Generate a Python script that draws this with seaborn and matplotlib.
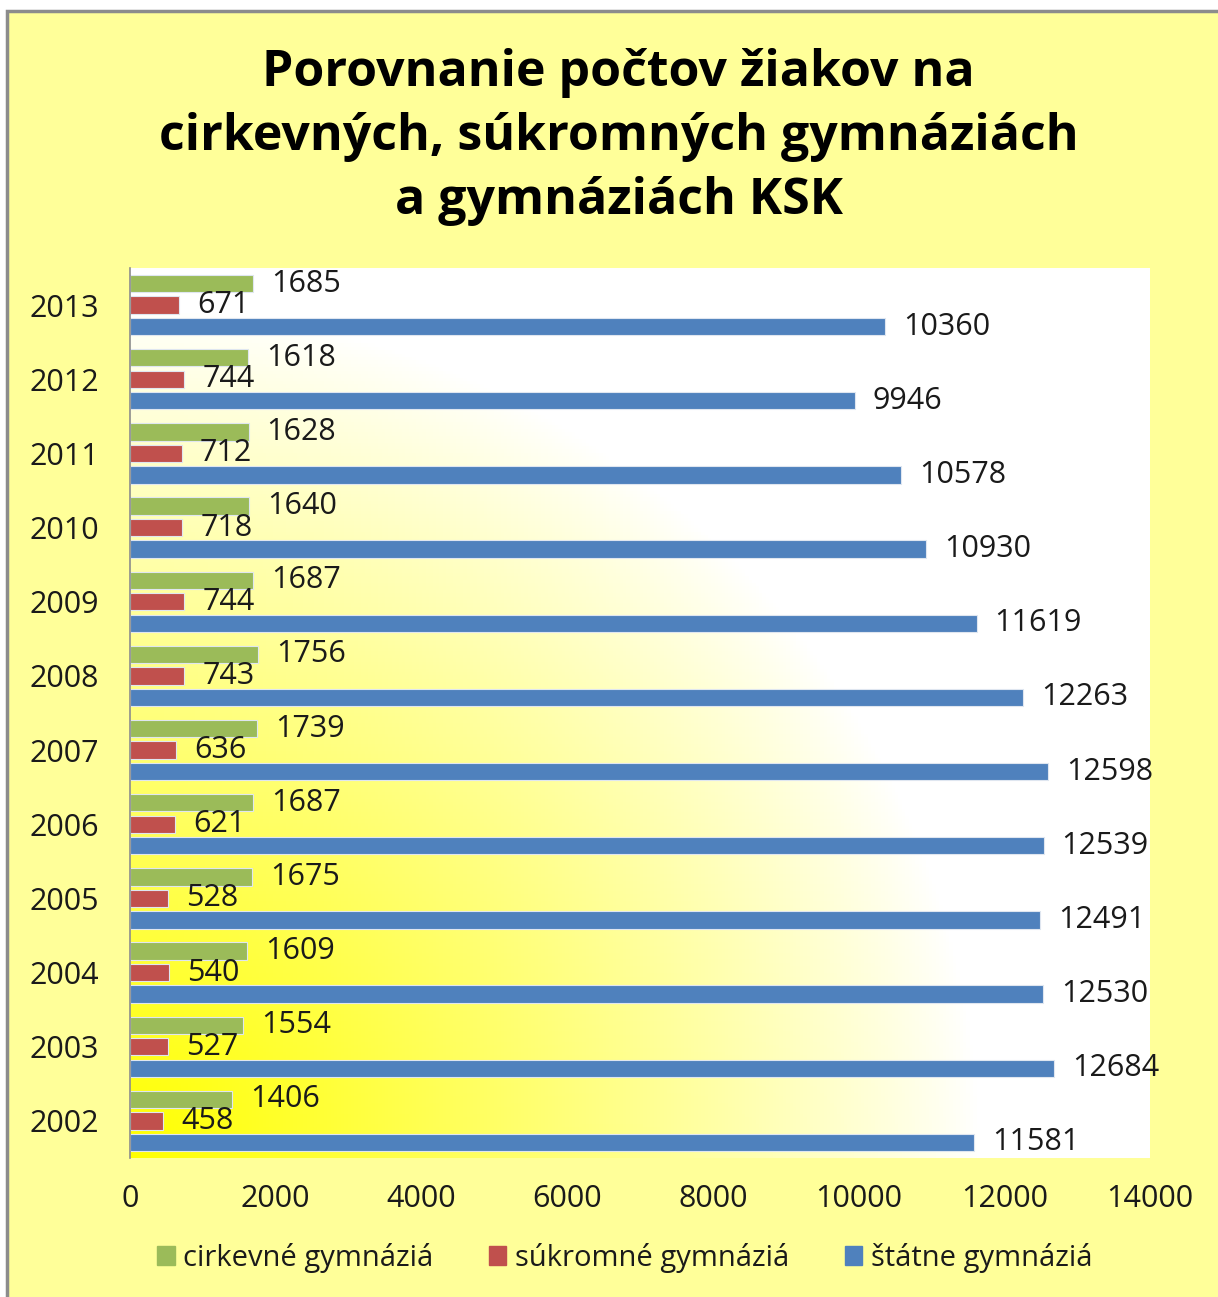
import numpy as np
import pandas as pd
import matplotlib
matplotlib.use("Agg")
import matplotlib.pyplot as plt
import seaborn as sns
from matplotlib.patches import Rectangle

#--------------------Data-----------------------
years = ["2013", "2012", "2011", "2010", "2009", "2008", "2007",
         "2006", "2005", "2004", "2003", "2002"]
cirkevne = [1685, 1618, 1628, 1640, 1687, 1756, 1739, 1687, 1675, 1609, 1554, 1406]
sukromne = [671, 744, 712, 718, 744, 743, 636, 621, 528, 540, 527, 458]
statne = [10360, 9946, 10578, 10930, 11619, 12263, 12598, 12539, 12491, 12530, 12684, 11581]
series_names = ["cirkevné gymnáziá", "súkromné gymnáziá", "štátne gymnáziá"]
series_colors = ["#9BBB59", "#C0504D", "#4F81BD"]
x_ticks = [0, 2000, 4000, 6000, 8000, 10000, 12000, 14000]

df = pd.DataFrame({"rok": years * 3,
                   "typ": [series_names[0]] * 12 + [series_names[1]] * 12 + [series_names[2]] * 12,
                   "pocet": cirkevne + sukromne + statne})

#--------------------Figure-----------------------
sns.set_style("white")
plt.rcParams["font.family"] = ["Open Sans", "DejaVu Sans"]
txt_col = "#1a1a1a"
fs = 22

fig = plt.figure(figsize=(12.18, 12.97), dpi=100, facecolor="white")
# yellow chart area with grey border
fig.patches.append(Rectangle((7 / 1218, -0.05), 1.1, (1297 - 11) / 1297 + 0.05,
                             transform=fig.transFigure, facecolor="#FFFF99",
                             edgecolor="#8c8c8c", linewidth=2.5, zorder=-5))

ax = fig.add_axes([130 / 1218, 1 - 1158 / 1297, 1020 / 1218, 890 / 1297])

# radial gradient background (yellow bottom-left -> white)
w, h = 1020, 890
gx, gy = np.meshgrid(np.linspace(0, w, 300), np.linspace(0, h, 260))
r = np.sqrt(gx ** 2 + gy ** 2) / 850.0
t = np.clip(1 - r, 0, 1) ** 0.9
img = np.ones((260, 300, 3))
img[..., 2] = 1 - t
ax.imshow(img, extent=[0, 1, 0, 1], transform=ax.transAxes, origin="lower",
          aspect="auto", zorder=0)

sns.barplot(data=df, y="rok", x="pocet", hue="typ", order=years,
            hue_order=series_names, palette=series_colors, orient="h",
            saturation=1, width=0.87, gap=0.2, edgecolor="#dfe6f0", linewidth=0.8,
            ax=ax, legend=False, zorder=2)

for cont in ax.containers:
    ax.bar_label(cont, padding=13, fontsize=fs, color=txt_col, clip_on=False)

ax.set_xlim(0, 14000)
ax.set_ylim(11.5, -0.5)
ax.set_xticks(x_ticks)
ax.set_xticklabels([str(v) for v in x_ticks])
ax.tick_params(axis="x", length=0, pad=19, labelsize=fs, labelcolor=txt_col)
ax.tick_params(axis="y", length=0, pad=22, labelsize=fs, labelcolor=txt_col)
ax.set_xlabel("")
ax.set_ylabel("")
for s in ["top", "right", "bottom"]:
    ax.spines[s].set_visible(False)
ax.spines["left"].set_color("#8c8c8c")
ax.spines["left"].set_linewidth(1.2)
ax.set_facecolor("white")

# title
fig.text(0.508, 1 - 137 / 1297,
         "Porovnanie počtov žiakov na\ncirkevných, súkromných gymnáziách\na gymnáziách KSK",
         ha="center", va="center", fontsize=36, fontweight="bold",
         color="black", linespacing=1.37)

# legend
handles = [Rectangle((0, 0), 1, 1, color=c) for c in series_colors]
fig.legend(handles, series_names, loc="center", bbox_to_anchor=(0.513, 1 - 1258 / 1297),
           ncol=3, frameon=False, fontsize=21, handlelength=0.6, handleheight=0.6,
           handletextpad=0.3, columnspacing=1.9, labelcolor=txt_col)

fig.savefig("out.png", dpi=100, facecolor=fig.get_facecolor())
